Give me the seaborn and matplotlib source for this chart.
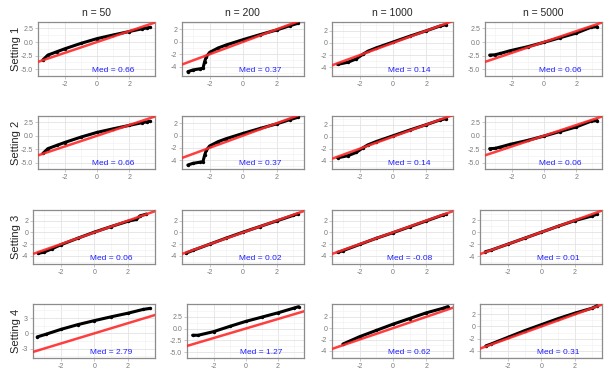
import numpy as np
import pandas as pd
import matplotlib.pyplot as plt
import seaborn as sns

# column / row labels
n_labels = ['n = 50', 'n = 200', 'n = 1000', 'n = 5000']
setting_labels = ['Setting 1', 'Setting 2', 'Setting 3', 'Setting 4']

# QQ curves (theoretical quantile, sample quantile)
# setting 1
qx_1_50 = [-3.35, -3.04, -2.5, -2.0, -1.0, 0.0, 1.0, 2.0, 2.8, 3.1, 3.3]
qy_1_50 = [-3.3, -2.4, -1.8, -1.25, -0.25, 0.63, 1.3, 1.94, 2.45, 2.6, 2.7]
qx_1_200 = [-3.3, -3.0, -2.6, -2.4, -2.3, -2.2, -2.0, -1.5, -1.0, 0.0, 1.0, 2.0, 2.8, 3.27]
qy_1_200 = [-4.8, -4.53, -4.35, -4.26, -3.2, -2.4, -1.7, -1.0, -0.5, 0.35, 1.15, 1.9, 2.6, 2.97]
qx_1_1000 = [-3.32, -2.7, -2.2, -1.8, -1.5, -1.0, 0.0, 1.0, 2.0, 2.8, 3.2]
qy_1_1000 = [-3.5, -3.15, -2.6, -1.85, -1.35, -0.8, 0.15, 1.1, 2.0, 2.75, 3.0]
qx_1_5000 = [-3.36, -3.05, -2.7, -2.1, -1.0, 0.0, 1.0, 2.0, 2.9, 3.3]
qy_1_5000 = [-2.4, -2.35, -2.1, -1.6, -0.85, -0.05, 0.8, 1.65, 2.7, 2.85]

# setting 2 (the panels look the same as setting 1)
qx_2_50, qy_2_50 = qx_1_50, qy_1_50
qx_2_200, qy_2_200 = qx_1_200, qy_1_200
qx_2_1000, qy_2_1000 = qx_1_1000, qy_1_1000
qx_2_5000, qy_2_5000 = qx_1_5000, qy_1_5000

# setting 3
qx_3_50 = [-3.33, -3.0, -2.5, -2.0, -1.0, 0.0, 1.0, 2.0, 2.5, 2.7, 3.09]
qy_3_50 = [-3.55, -3.35, -2.75, -2.1, -1.0, 0.05, 1.0, 1.9, 2.2, 2.8, 3.1]
qx_3_200 = [-3.4, -3.0, -2.0, -1.0, 0.0, 1.0, 2.0, 3.0, 3.3]
qy_3_200 = [-3.5, -3.05, -2.0, -0.95, 0.05, 1.0, 1.95, 2.9, 3.2]
qx_3_1000 = [-3.3, -3.0, -2.0, -1.0, 0.0, 1.0, 2.0, 3.0, 3.2]
qy_3_1000 = [-3.4, -3.1, -2.05, -1.0, -0.05, 0.95, 1.95, 2.95, 3.1]
qx_3_5000 = [-3.33, -3.0, -2.0, -1.0, 0.0, 1.0, 2.0, 3.0, 3.3]
qy_3_5000 = [-3.25, -3.0, -2.0, -1.0, 0.0, 1.0, 1.95, 2.7, 3.0]

# setting 4
qx_4_50 = [-3.4, -2.9, -2.0, -1.0, 0.0, 1.0, 2.0, 2.9, 3.3]
qy_4_50 = [-0.7, -0.2, 0.77, 1.7, 2.5, 3.25, 3.96, 4.7, 4.9]
qx_4_200 = [-3.3, -2.95, -2.0, -1.0, 0.0, 1.0, 2.0, 3.0, 3.3]
qy_4_200 = [-1.4, -1.4, -0.65, 0.45, 1.5, 2.4, 3.3, 4.3, 4.6]
qx_4_1000 = [-3.0, -2.0, -1.0, 0.0, 1.0, 2.0, 3.0, 3.3]
qy_4_1000 = [-2.8, -1.5, -0.4, 0.7, 1.7, 2.7, 3.5, 3.8]
qx_4_5000 = [-3.3, -3.0, -2.0, -1.0, 0.0, 1.0, 2.0, 3.0, 3.3]
qy_4_5000 = [-3.2, -2.9, -1.8, -0.7, 0.3, 1.3, 2.2, 3.0, 3.4]

# median labels
med_1 = ['0.66', '0.37', '0.14', '0.06']
med_2 = ['0.66', '0.37', '0.14', '0.06']
med_3 = ['0.06', '0.02', '-0.08', '0.01']
med_4 = ['2.79', '1.27', '0.62', '0.31']

# red reference line y = x
ref_x = [-6, 6]
ref_y = [-6, 6]

# axis ranges and y ticks per panel
ylim_1 = [(-5.4, 3.0), (-5.5, 3.23), (-5.4, 3.48), (-5.3, 3.17)]
ylim_2 = [(-5.25, 3.18), (-5.5, 3.23), (-5.4, 3.48), (-5.3, 3.17)]
ylim_3 = [(-5.36, 3.8), (-5.36, 3.8), (-5.36, 3.8), (-5.3, 3.7)]
ylim_4 = [(-4.9, 5.7), (-5.45, 5.1), (-5.3, 4.2), (-5.25, 3.65)]
yt_1 = [[-5, -2.5, 0, 2.5], [-4, -2, 0, 2], [-4, -2, 0, 2], [-5, -2.5, 0, 2.5]]
yt_2 = yt_1
yt_3 = [[-4, -2, 0, 2], [-4, -2, 0, 2], [-4, -2, 0, 2], [-4, -2, 0, 2]]
yt_4 = [[-3, 0, 3], [-5, -2.5, 0, 2.5], [-4, -2, 0, 2], [-4, -2, 0, 2]]
x_ticks = [-2, 0, 2]
xlim = (-3.65, 3.6)

qx = [[qx_1_50, qx_1_200, qx_1_1000, qx_1_5000],
      [qx_2_50, qx_2_200, qx_2_1000, qx_2_5000],
      [qx_3_50, qx_3_200, qx_3_1000, qx_3_5000],
      [qx_4_50, qx_4_200, qx_4_1000, qx_4_5000]]
qy = [[qy_1_50, qy_1_200, qy_1_1000, qy_1_5000],
      [qy_2_50, qy_2_200, qy_2_1000, qy_2_5000],
      [qy_3_50, qy_3_200, qy_3_1000, qy_3_5000],
      [qy_4_50, qy_4_200, qy_4_1000, qy_4_5000]]
meds = [med_1, med_2, med_3, med_4]
ylims = [ylim_1, ylim_2, ylim_3, ylim_4]
yticks = [yt_1, yt_2, yt_3, yt_4]

sns.set_theme(style='white')
plt.rcParams['font.family'] = ['Liberation Sans', 'DejaVu Sans']

W, H = 609, 375
fig = plt.figure(figsize=(W / 100, H / 100), dpi=100)

# panel boxes in pixels
rows_tb = [(21.7, 76), (115.7, 169.3), (210, 264), (304.3, 358.3)]
lefts = [[38, 182, 332, 485], [38, 182, 332, 485],
         [33, 182, 332, 480], [33, 187, 332, 480]]
rights = [155, 303.5, 453, 602]


def fmt(v, ticks):
    if any(abs(t - round(t)) > 1e-9 for t in ticks):
        return f'{v:.1f}'
    return f'{int(v)}'


for r in range(4):
    top, bot = rows_tb[r]
    for c in range(4):
        l, rt = lefts[r][c], rights[c]
        ax = fig.add_axes([l / W, 1 - bot / H, (rt - l) / W, (bot - top) / H])
        df = pd.DataFrame({'theo': qx[r][c], 'sample': qy[r][c]})
        sns.lineplot(data=df, x='theo', y='sample', sort=False, color='black',
                     linewidth=2.2, ax=ax, zorder=3)
        sns.scatterplot(data=df, x='theo', y='sample', color='black', s=6,
                        linewidth=0, ax=ax, zorder=3)
        sns.lineplot(x=ref_x, y=ref_y, color='#ff2a2a', linewidth=1.8,
                     alpha=0.9, ax=ax, zorder=4)
        ax.set_xlim(xlim)
        ax.set_ylim(ylims[r][c])
        yt = yticks[r][c]
        ax.set_xticks(x_ticks)
        ax.set_yticks(yt)
        ax.set_xticklabels([fmt(v, x_ticks) for v in x_ticks])
        ax.set_yticklabels([fmt(v, yt) for v in yt])
        step = yt[1] - yt[0]
        ax.set_xticks([-3, -1, 1, 3], minor=True)
        ax.set_yticks([t + step / 2 for t in [yt[0] - step] + yt], minor=True)
        ax.grid(True, which='major', color='#e3e3e3', linewidth=0.6)
        ax.grid(True, which='minor', color='#f0f0f0', linewidth=0.4)
        ax.set_axisbelow(True)
        ax.tick_params(which='major', length=2, width=0.5, color='#b3b3b3',
                       labelsize=5, labelcolor='#7a7a7a', pad=1.5,
                       bottom=True, left=True)
        ax.tick_params(which='minor', length=0)
        for sp in ax.spines.values():
            sp.set_color('#8c8c8c')
            sp.set_linewidth(0.9)
        ax.set_xlabel('')
        ax.set_ylabel('')
        ax.text(0.64, 0.1, 'Med = ' + meds[r][c], transform=ax.transAxes,
                color='#1f1fff', fontsize=6, ha='center', va='center')
        if r == 0:
            ax.set_title(n_labels[c], fontsize=7.5, pad=4)
        if c == 0:
            fig.text(16 / W, 1 - (top + bot) / 2 / H, setting_labels[r],
                     rotation=90, fontsize=8, ha='center', va='center')

fig.savefig('out.png', dpi=100)
